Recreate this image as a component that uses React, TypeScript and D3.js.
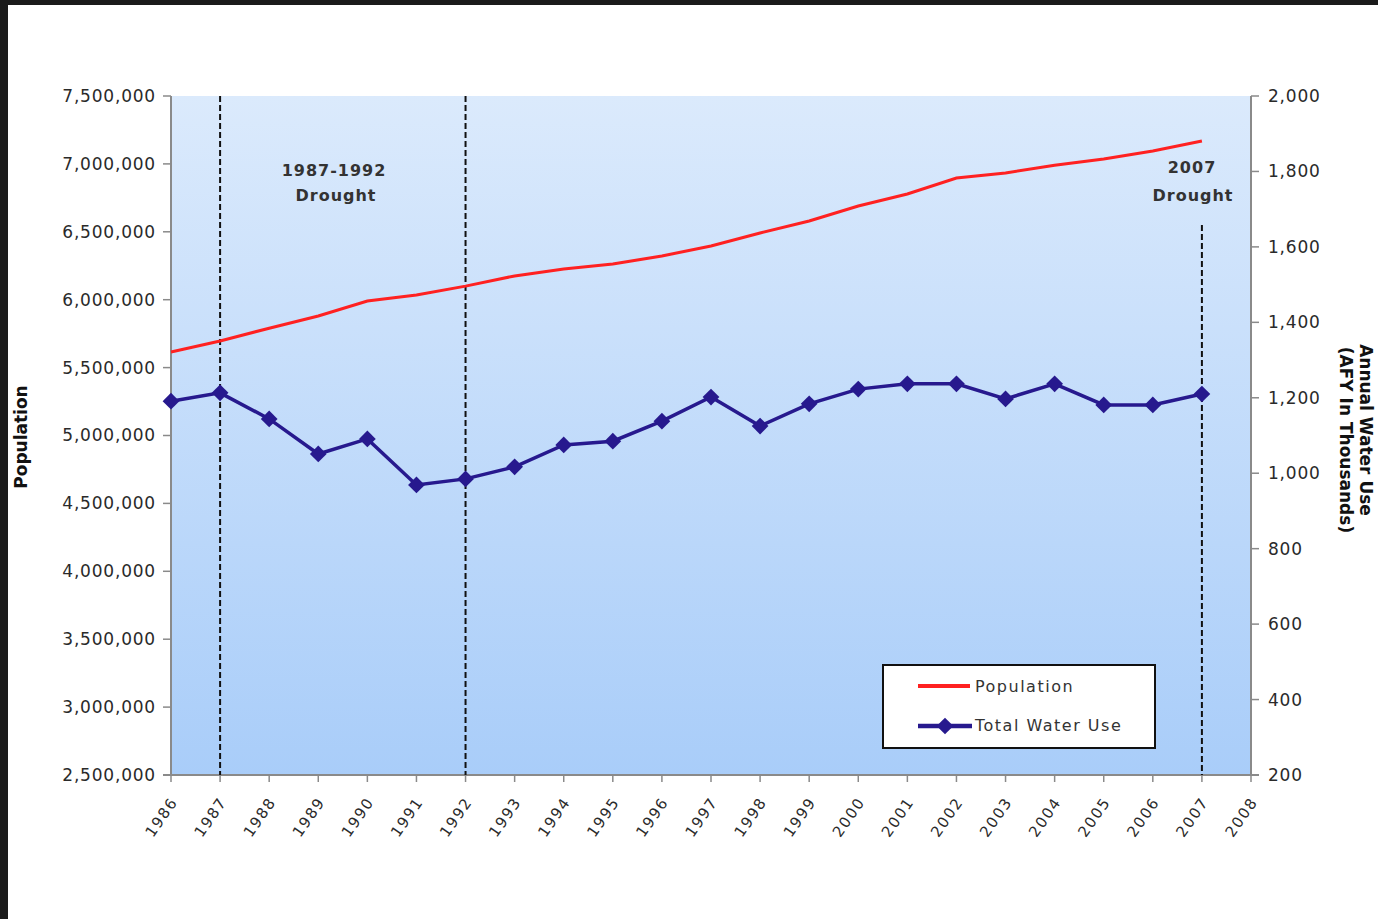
import React from "react";
import * as d3 from "d3";

const years = d3.range(1986, 2008); // 1986..2007 data
const tickYears = d3.range(1986, 2009); // axis 1986..2008
const population = [5615000, 5696000, 5790000, 5880000, 5990000, 6035000, 6100000, 6175000, 6226000, 6263000, 6322000, 6395000, 6491000, 6580000, 6690000, 6778000, 6896000, 6933000, 6990000, 7036000, 7095000, 7169000];
const waterUse = [1191, 1213, 1144, 1051, 1091, 969, 985, 1017, 1075, 1085, 1138, 1202, 1125, 1184, 1223, 1237, 1237, 1197, 1237, 1181, 1181, 1210];
const leftTicks = [2500000, 3000000, 3500000, 4000000, 4500000, 5000000, 5500000, 6000000, 6500000, 7000000, 7500000];
const rightTicks = [200, 400, 600, 800, 1000, 1200, 1400, 1600, 1800, 2000];
const droughtLines = [
  { year: 1987, top: null as number | null },
  { year: 1992, top: null as number | null },
  { year: 2007, top: 225 },
];

const W = 1378, H = 919;
const L = 171, R = 1251, T = 96, B = 775;

export default function App() {
  const x = d3.scaleLinear().domain([1986, 2008]).range([L, R]);
  const yL = d3.scaleLinear().domain([2500000, 7500000]).range([B, T]);
  const yR = d3.scaleLinear().domain([200, 2000]).range([B, T]);
  const fmt = d3.format(",");
  const popLine = d3.line<number>().x((_, i) => x(years[i])).y((d) => yL(d))(population) || "";
  const waterLine = d3.line<number>().x((_, i) => x(years[i])).y((d) => yR(d))(waterUse) || "";
  const diamond = d3.symbol().type(d3.symbolSquare).size(140)() || "";
  const font = "'DejaVu Sans', Verdana, sans-serif";
  const axisColor = "#8a8a8a";
  const textColor = "#2a2a2a";
  return (
    <svg width={W} height={H} style={{ position: "absolute", left: 0, top: 0 }} fontFamily={font}>
      <defs>
        <linearGradient id="bg" x1="0" y1="0" x2="0" y2="1">
          <stop offset="0" stopColor="#dbeafc" />
          <stop offset="1" stopColor="#a9cdf9" />
        </linearGradient>
      </defs>
      <rect x={0} y={0} width={W} height={H} fill="#1b1b1b" />
      <rect x={8} y={5} width={W - 8} height={H - 5} fill="#ffffff" />
      <rect x={L} y={T} width={R - L} height={B - T} fill="url(#bg)" />

      {/* left axis */}
      <line x1={L} x2={L} y1={T} y2={B} stroke={axisColor} strokeWidth={2} />
      {leftTicks.map((t) => (
        <g key={"l" + t}>
          <line x1={L - 8} x2={L} y1={yL(t)} y2={yL(t)} stroke={axisColor} strokeWidth={1.5} />
          <text x={L - 15} y={yL(t)} dy="0.35em" textAnchor="end" fontSize={17} letterSpacing={0.8} fill={textColor}>
            {fmt(t)}
          </text>
        </g>
      ))}
      {/* right axis */}
      <line x1={R} x2={R} y1={T} y2={B} stroke={axisColor} strokeWidth={2} />
      {rightTicks.map((t) => (
        <g key={"r" + t}>
          <line x1={R} x2={R + 8} y1={yR(t)} y2={yR(t)} stroke={axisColor} strokeWidth={1.5} />
          <text x={R + 17} y={yR(t)} dy="0.35em" textAnchor="start" fontSize={17} letterSpacing={0.8} fill={textColor}>
            {fmt(t)}
          </text>
        </g>
      ))}
      {/* bottom axis */}
      <line x1={L - 8} x2={R + 8} y1={B} y2={B} stroke={axisColor} strokeWidth={2} />
      {tickYears.map((yr) => (
        <g key={"x" + yr}>
          <line x1={x(yr)} x2={x(yr)} y1={B} y2={B + 7} stroke={axisColor} strokeWidth={1.5} />
          <text
            transform={`translate(${x(yr) + 3},${B + 24}) rotate(-55)`}
            textAnchor="end"
            dy="0.35em"
            fontSize={15}
            letterSpacing={1.5}
            fill={textColor}
          >
            {yr}
          </text>
        </g>
      ))}

      {/* drought lines */}
      {droughtLines.map((d) => (
        <line
          key={"d" + d.year}
          x1={x(d.year)}
          x2={x(d.year)}
          y1={d.top ?? T}
          y2={B}
          stroke="#111"
          strokeWidth={2}
          strokeDasharray="6,3"
        />
      ))}
      <text x={334} y={176} textAnchor="middle" fontSize={16} fontWeight="bold" letterSpacing={1} fill="#333">1987-1992</text>
      <text x={336} y={201} textAnchor="middle" fontSize={16} fontWeight="bold" letterSpacing={1} fill="#333">Drought</text>
      <text x={1192} y={173} textAnchor="middle" fontSize={16} fontWeight="bold" letterSpacing={1} fill="#333">2007</text>
      <text x={1193} y={201} textAnchor="middle" fontSize={16} fontWeight="bold" letterSpacing={1} fill="#333">Drought</text>

      {/* series */}
      <path d={popLine} fill="none" stroke="#ff2121" strokeWidth={3} />
      <path d={waterLine} fill="none" stroke="#27198e" strokeWidth={3.5} />
      {waterUse.map((v, i) => (
        <path key={"m" + i} d={diamond} transform={`translate(${x(years[i])},${yR(v)}) rotate(45)`} fill="#27198e" />
      ))}

      {/* legend */}
      <rect x={883} y={665} width={272} height={83} fill="#fff" stroke="#111" strokeWidth={2} />
      <line x1={918} x2={970} y1={686} y2={686} stroke="#ff2121" strokeWidth={4} />
      <text x={975} y={686} dy="0.35em" fontSize={16} letterSpacing={1.5} fill="#333">Population</text>
      <line x1={918} x2={972} y1={726} y2={726} stroke="#27198e" strokeWidth={4.5} />
      <path d={diamond} transform="translate(945,726) rotate(45)" fill="#27198e" />
      <text x={975} y={725} dy="0.35em" fontSize={16} letterSpacing={1.5} fill="#333">Total Water Use</text>

      {/* axis titles */}
      <text transform="translate(27,437) rotate(-90)" textAnchor="middle" fontSize={17} fontWeight="bold" fill="#111">Population</text>
      <text transform="translate(1340,440) rotate(90)" textAnchor="middle" fontSize={17} fontWeight="bold" fill="#111">(AFY In Thousands)</text>
      <text transform="translate(1360,430) rotate(90)" textAnchor="middle" fontSize={17} fontWeight="bold" fill="#111">Annual Water Use</text>
    </svg>
  );
}
